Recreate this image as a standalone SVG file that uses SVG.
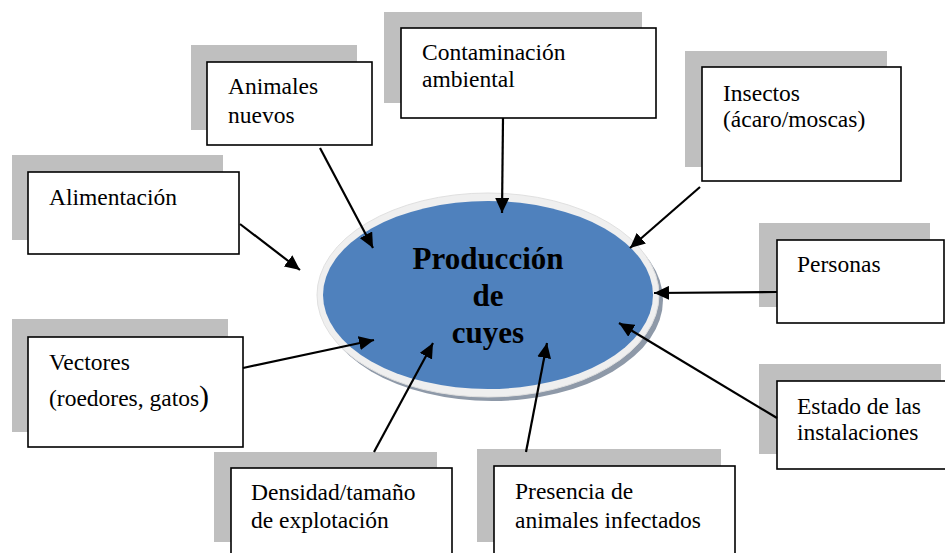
<svg xmlns="http://www.w3.org/2000/svg" width="945" height="553" viewBox="0 0 945 553">
<style>
.sh{fill:#BFBFBF}
.bx{fill:#FFFFFF;stroke:#000000;stroke-width:1.6}
.lb{font-family:"Liberation Serif","Times New Roman",serif;font-size:23.5px;fill:#000000}
.tt{font-family:"Liberation Serif","Times New Roman",serif;font-size:31px;font-weight:bold;fill:#000000;text-anchor:middle}
.cn{stroke:#000000;stroke-width:2.2;fill:none;marker-end:url(#ah)}
</style>
<defs>
<marker id="ah" markerUnits="userSpaceOnUse" markerWidth="16" markerHeight="14" refX="15" refY="7" orient="auto">
<path d="M0,0 L15,7 L0,14 z" fill="#000000"/>
</marker>
</defs>
<rect width="945" height="553" fill="#FFFFFF"/>

<g id="center">
<ellipse cx="492" cy="300" rx="171" ry="101" fill="#8E99A8"/>
<ellipse cx="488" cy="295" rx="171" ry="102" fill="#EFEFEF" stroke="#E0E0E0" stroke-width="1"/>
<ellipse cx="488" cy="295" rx="165" ry="94" fill="#4F81BD"/>
<text class="tt" x="488" y="269">Producción</text>
<text class="tt" x="488" y="306">de</text>
<text class="tt" x="488" y="343">cuyes</text>
</g>

<g id="alimentacion">
<rect class="sh" x="12" y="155" width="211" height="85"/>
<rect class="bx" x="28" y="172" width="211" height="82"/>
<text class="lb" x="49" y="205">Alimentación</text>
</g>

<g id="animales">
<rect class="sh" x="191" y="45" width="166" height="85"/>
<rect class="bx" x="207" y="62" width="165" height="83"/>
<text class="lb" x="228" y="94">Animales</text>
<text class="lb" x="228" y="123">nuevos</text>
</g>

<g id="contaminacion">
<rect class="sh" x="384" y="12" width="258" height="91"/>
<rect class="bx" x="401" y="28" width="255" height="90"/>
<text class="lb" x="422" y="60">Contaminación</text>
<text class="lb" x="422" y="87">ambiental</text>
</g>

<g id="insectos">
<rect class="sh" x="685" y="51" width="202" height="116"/>
<rect class="bx" x="702" y="67" width="199" height="114"/>
<text class="lb" x="723" y="101">Insectos</text>
<text class="lb" x="723" y="127">(ácaro/moscas)</text>
</g>

<g id="personas">
<rect class="sh" x="759" y="223" width="171" height="84"/>
<rect class="bx" x="777" y="240" width="167" height="83"/>
<text class="lb" x="797" y="272">Personas</text>
</g>

<g id="estado">
<rect class="sh" x="759" y="364" width="182" height="90"/>
<rect class="bx" x="777" y="381" width="172" height="88"/>
<text class="lb" x="797" y="414">Estado de las</text>
<text class="lb" x="797" y="440">instalaciones</text>
</g>

<g id="vectores">
<rect class="sh" x="12" y="319" width="216" height="113"/>
<rect class="bx" x="28" y="337" width="215" height="110"/>
<text class="lb" x="49" y="370">Vectores</text>
<text class="lb" x="49" y="406">(roedores, gatos<tspan style="font-size:30px">)</tspan></text>
</g>

<g id="densidad">
<rect class="sh" x="214" y="452" width="223" height="90"/>
<rect class="bx" x="231" y="468" width="221" height="92"/>
<text class="lb" x="251" y="500">Densidad/tamaño</text>
<text class="lb" x="251" y="528">de explotación</text>
</g>

<g id="presencia">
<rect class="sh" x="477" y="449" width="244" height="93"/>
<rect class="bx" x="494" y="466" width="241" height="94"/>
<text class="lb" x="515" y="499">Presencia de</text>
<text class="lb" x="515" y="528">animales infectados</text>
</g>

<g id="connectors">
<line class="cn" x1="320" y1="148" x2="373" y2="248"/>
<line class="cn" x1="503" y1="118" x2="502" y2="213"/>
<line class="cn" x1="700" y1="187" x2="630" y2="248"/>
<line class="cn" x1="777" y1="292" x2="654" y2="293"/>
<line class="cn" x1="777" y1="418" x2="619" y2="323"/>
<line class="cn" x1="526" y1="452" x2="547" y2="343"/>
<line class="cn" x1="374" y1="452" x2="433" y2="343"/>
<line class="cn" x1="243" y1="368" x2="374" y2="340"/>
<line class="cn" x1="240" y1="224" x2="300" y2="270"/>
</g>
</svg>
